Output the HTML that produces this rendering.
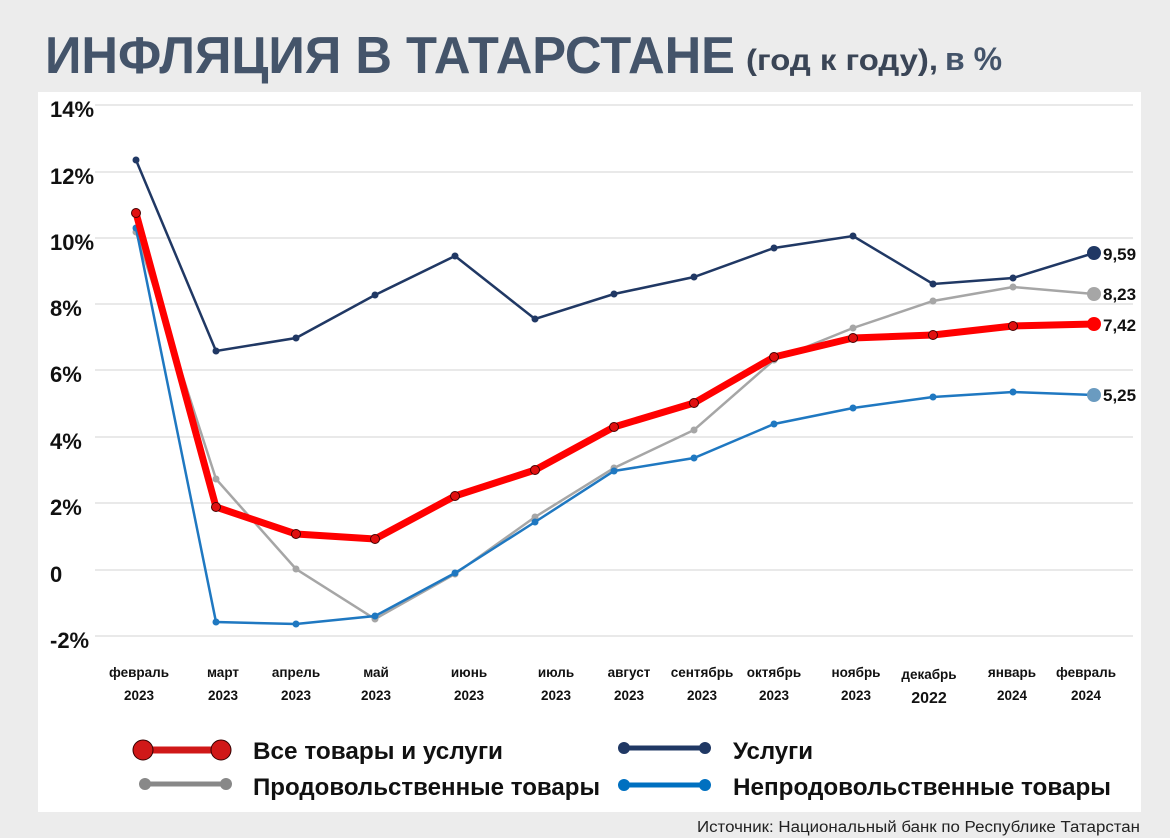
<!DOCTYPE html>
<html><head><meta charset="utf-8"><style>
html,body{margin:0;padding:0;background:#ececec;}
svg{display:block;font-family:"Liberation Sans","DejaVu Sans",sans-serif;}
</style></head><body>
<svg width="1170" height="838" viewBox="0 0 1170 838" xmlns="http://www.w3.org/2000/svg">
<rect width="1170" height="838" fill="#ececec"/>
<rect x="38" y="92" width="1103" height="720" fill="#fff"/>
<text x="45" y="73" font-size="52" font-weight="bold" fill="#44546a" textLength="690" lengthAdjust="spacingAndGlyphs">ИНФЛЯЦИЯ В ТАТАРСТАНЕ</text>
<text x="746" y="70" font-size="30" font-weight="bold" fill="#3a4556" textLength="192" lengthAdjust="spacingAndGlyphs">(год к году),</text>
<text x="945" y="70" font-size="32" font-weight="bold" fill="#44546a">в %</text>
<g stroke="#dcdcdc" stroke-width="1.3">
<line x1="95" x2="1133" y1="105" y2="105"/><line x1="95" x2="1133" y1="172" y2="172"/>
<line x1="95" x2="1133" y1="238" y2="238"/><line x1="95" x2="1133" y1="304" y2="304"/>
<line x1="95" x2="1133" y1="370" y2="370"/><line x1="95" x2="1133" y1="437" y2="437"/>
<line x1="95" x2="1133" y1="503" y2="503"/><line x1="95" x2="1133" y1="570" y2="570"/>
<line x1="95" x2="1133" y1="636" y2="636"/>
</g>
<g font-size="22" font-weight="bold" fill="#111">
<text x="50" y="117">14%</text><text x="50" y="184">12%</text><text x="50" y="250">10%</text>
<text x="50" y="316">8%</text><text x="50" y="382">6%</text><text x="50" y="449">4%</text>
<text x="50" y="515">2%</text><text x="50" y="582">0</text><text x="50" y="648">-2%</text>
</g>
<g font-size="13.5" font-weight="bold" fill="#111" text-anchor="middle">
<text x="139" y="677">февраль</text><text x="139" y="700">2023</text>
<text x="223" y="677">март</text><text x="223" y="700">2023</text>
<text x="296" y="677">апрель</text><text x="296" y="700">2023</text>
<text x="376" y="677">май</text><text x="376" y="700">2023</text>
<text x="469" y="677">июнь</text><text x="469" y="700">2023</text>
<text x="556" y="677">июль</text><text x="556" y="700">2023</text>
<text x="629" y="677">август</text><text x="629" y="700">2023</text>
<text x="702" y="677">сентябрь</text><text x="702" y="700">2023</text>
<text x="774" y="677">октябрь</text><text x="774" y="700">2023</text>
<text x="856" y="677">ноябрь</text><text x="856" y="700">2023</text>
<text x="929" y="679">декабрь</text><text x="929" y="703" font-size="16">2022</text>
<text x="1012" y="677">январь</text><text x="1012" y="700">2024</text>
<text x="1086" y="677">февраль</text><text x="1086" y="700">2024</text>
</g>
<polyline fill="none" stroke="#203864" stroke-width="2.5" points="136,160 216,351 296,338 375,295 455,256 535,319 614,294 694,277 774,248 853,236 933,284 1013,278 1094,253"/>
<g fill="#203864"><circle cx="136" cy="160" r="3.5"/><circle cx="216" cy="351" r="3.5"/><circle cx="296" cy="338" r="3.5"/><circle cx="375" cy="295" r="3.5"/><circle cx="455" cy="256" r="3.5"/><circle cx="535" cy="319" r="3.5"/><circle cx="614" cy="294" r="3.5"/><circle cx="694" cy="277" r="3.5"/><circle cx="774" cy="248" r="3.5"/><circle cx="853" cy="236" r="3.5"/><circle cx="933" cy="284" r="3.5"/><circle cx="1013" cy="278" r="3.5"/><circle cx="1094" cy="253" r="7"/></g>
<polyline fill="none" stroke="#a6a6a6" stroke-width="2.5" points="136,232 216,479 296,569 375,619 455,574 535,517 614,468 694,430 774,360 853,328 933,301 1013,287 1094,294"/>
<g fill="#a6a6a6"><circle cx="136" cy="232" r="3.5"/><circle cx="216" cy="479" r="3.5"/><circle cx="296" cy="569" r="3.5"/><circle cx="375" cy="619" r="3.5"/><circle cx="455" cy="574" r="3.5"/><circle cx="535" cy="517" r="3.5"/><circle cx="614" cy="468" r="3.5"/><circle cx="694" cy="430" r="3.5"/><circle cx="774" cy="360" r="3.5"/><circle cx="853" cy="328" r="3.5"/><circle cx="933" cy="301" r="3.5"/><circle cx="1013" cy="287" r="3.5"/><circle cx="1094" cy="294" r="7"/></g>
<polyline fill="none" stroke="#1f78c1" stroke-width="2.5" points="136,228 216,622 296,624 375,616 455,573 535,522 614,471 694,458 774,424 853,408 933,397 1013,392 1094,395"/>
<g fill="#1f78c1"><circle cx="136" cy="228" r="3.5"/><circle cx="216" cy="622" r="3.5"/><circle cx="296" cy="624" r="3.5"/><circle cx="375" cy="616" r="3.5"/><circle cx="455" cy="573" r="3.5"/><circle cx="535" cy="522" r="3.5"/><circle cx="614" cy="471" r="3.5"/><circle cx="694" cy="458" r="3.5"/><circle cx="774" cy="424" r="3.5"/><circle cx="853" cy="408" r="3.5"/><circle cx="933" cy="397" r="3.5"/><circle cx="1013" cy="392" r="3.5"/><circle cx="1094" cy="395" r="7" fill="#6a9bc0"/></g>
<polyline fill="none" stroke="#ff0000" stroke-width="7" stroke-linejoin="round" points="136,213 216,507 296,534 375,539 455,496 535,470 614,427 694,403 774,357 853,338 933,335 1013,326 1094,324"/>
<g fill="#e01010" stroke="#400" stroke-width="1"><circle cx="136" cy="213" r="4.5"/><circle cx="216" cy="507" r="4.5"/><circle cx="296" cy="534" r="4.5"/><circle cx="375" cy="539" r="4.5"/><circle cx="455" cy="496" r="4.5"/><circle cx="535" cy="470" r="4.5"/><circle cx="614" cy="427" r="4.5"/><circle cx="694" cy="403" r="4.5"/><circle cx="774" cy="357" r="4.5"/><circle cx="853" cy="338" r="4.5"/><circle cx="933" cy="335" r="4.5"/><circle cx="1013" cy="326" r="4.5"/></g>
<circle cx="1094" cy="324" r="7" fill="#ff0000"/>
<g font-size="17" font-weight="bold" fill="#111">
<text x="1103" y="260">9,59</text><text x="1103" y="300">8,23</text>
<text x="1103" y="331">7,42</text><text x="1103" y="401">5,25</text>
</g>
<line x1="143" x2="221" y1="750" y2="750" stroke="#d01818" stroke-width="7"/>
<circle cx="143" cy="750" r="10" fill="#d01818" stroke="#300" stroke-width="1"/>
<circle cx="221" cy="750" r="10" fill="#d01818" stroke="#300" stroke-width="1"/>
<line x1="145" x2="226" y1="784" y2="784" stroke="#888" stroke-width="5" stroke-linecap="round"/>
<circle cx="145" cy="784" r="6" fill="#888"/><circle cx="226" cy="784" r="6" fill="#888"/>
<line x1="624" x2="705" y1="748" y2="748" stroke="#203864" stroke-width="5"/>
<circle cx="624" cy="748" r="6" fill="#203864"/><circle cx="705" cy="748" r="6" fill="#203864"/>
<line x1="624" x2="705" y1="785" y2="785" stroke="#0070c0" stroke-width="5"/>
<circle cx="624" cy="785" r="6" fill="#0070c0"/><circle cx="705" cy="785" r="6" fill="#0070c0"/>
<g font-size="24" fill="#111" font-weight="bold">
<text x="253" y="759" textLength="250" lengthAdjust="spacingAndGlyphs">Все товары и услуги</text>
<text x="253" y="795" textLength="347" lengthAdjust="spacingAndGlyphs">Продовольственные товары</text>
<text x="733" y="759" textLength="80" lengthAdjust="spacingAndGlyphs">Услуги</text>
<text x="733" y="795" textLength="378" lengthAdjust="spacingAndGlyphs">Непродовольственные товары</text>
</g>
<text x="1140" y="832" font-size="15.5" fill="#222" text-anchor="end" textLength="443" lengthAdjust="spacingAndGlyphs">Источник: Национальный банк по Республике Татарстан</text>
</svg>
</body></html>
